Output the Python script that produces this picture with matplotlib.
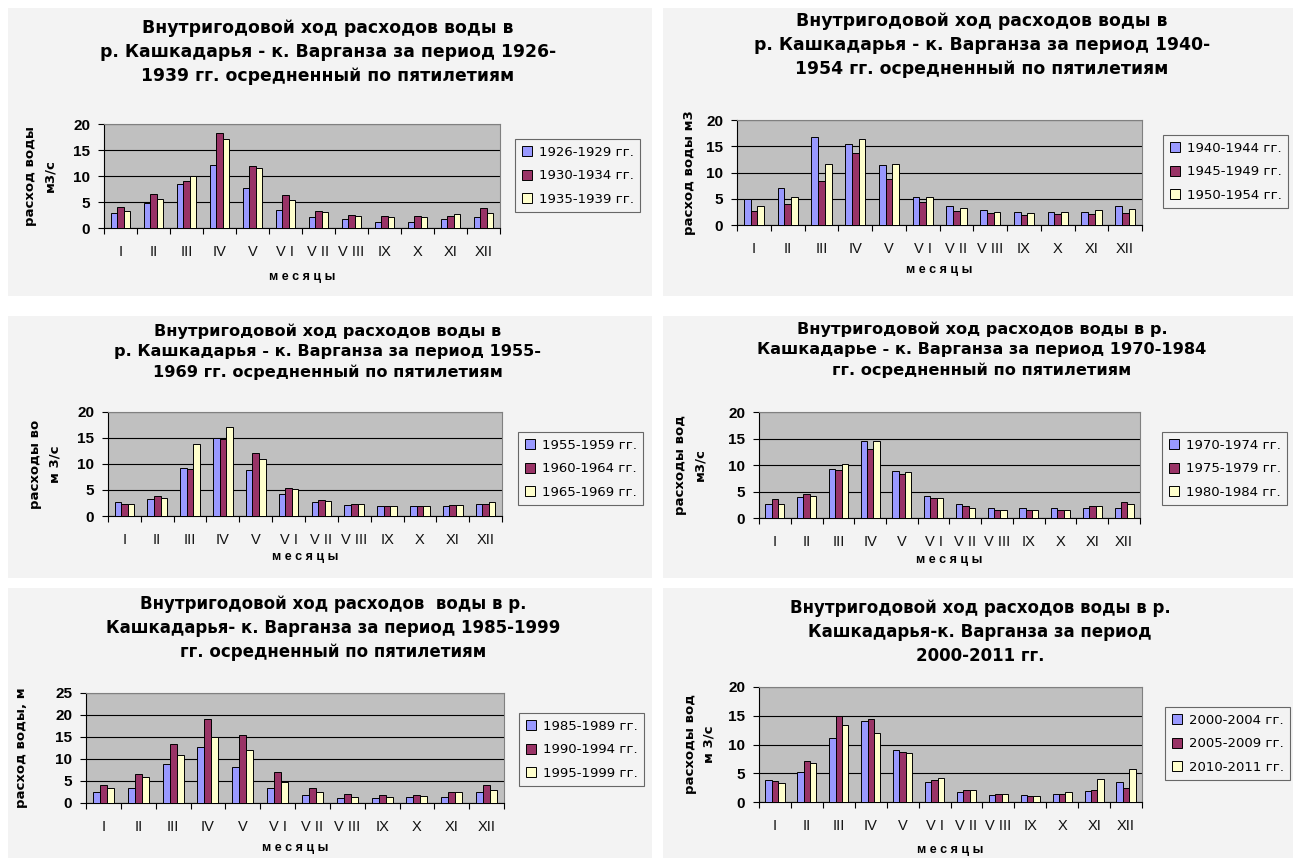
import numpy as np
import matplotlib.pyplot as plt
from matplotlib.patches import Rectangle

plt.rcParams['font.family'] = ['Liberation Sans', 'DejaVu Sans']

W, H = 1293, 861

months = ['I', 'II', 'III', 'IV', 'V', 'V I', 'V II', 'V III', 'IX', 'X', 'XI', 'XII']
colors = ['#9999ff', '#993366', '#ffffcc']

# 1926-1939
p1_labels = ['1926-1929 гг.', '1930-1934 гг.', '1935-1939 гг.']
p1_a = [2.9, 4.75, 8.4, 12.2, 7.7, 3.5, 2.1, 1.7, 1.2, 1.2, 1.7, 2.1]
p1_b = [4.05, 6.5, 9.1, 18.2, 12.0, 6.3, 3.2, 2.5, 2.4, 2.4, 2.4, 3.9]
p1_c = [3.2, 5.6, 10.0, 17.2, 11.6, 5.3, 3.0, 2.4, 2.1, 2.1, 2.6, 2.8]

# 1940-1954
p2_labels = ['1940-1944 гг.', '1945-1949 гг.', '1950-1954 гг.']
p2_a = [4.95, 7.0, 16.8, 15.5, 11.4, 5.3, 3.55, 2.85, 2.4, 2.5, 2.5, 3.55]
p2_b = [2.7, 4.0, 8.4, 13.8, 8.7, 4.4, 2.7, 2.2, 1.9, 2.1, 2.1, 2.2]
p2_c = [3.7, 5.4, 11.7, 16.4, 11.7, 5.3, 3.3, 2.5, 2.2, 2.4, 2.85, 3.05]

# 1955-1969
p3_labels = ['1955-1959 гг.', '1960-1964 гг.', '1965-1969 гг.']
p3_a = [2.7, 3.2, 9.2, 15.0, 8.85, 4.25, 2.7, 2.2, 2.0, 2.0, 2.0, 2.4]
p3_b = [2.3, 3.9, 9.0, 14.85, 12.1, 5.4, 3.15, 2.4, 2.0, 2.0, 2.2, 2.4]
p3_c = [2.3, 3.55, 13.9, 17.1, 10.9, 5.2, 2.9, 2.25, 2.0, 2.0, 2.2, 2.65]

# 1970-1984
p4_labels = ['1970-1974 гг.', '1975-1979 гг.', '1980-1984 гг.']
p4_a = [2.55, 3.9, 9.3, 14.5, 8.9, 4.2, 2.55, 1.9, 1.8, 1.8, 1.8, 1.95]
p4_b = [3.5, 4.5, 9.0, 13.0, 8.35, 3.75, 2.2, 1.45, 1.45, 1.6, 2.2, 3.1]
p4_c = [2.55, 4.1, 10.1, 14.5, 8.7, 3.75, 1.95, 1.6, 1.45, 1.6, 2.2, 2.55]

# 1985-1999
p5_labels = ['1985-1989 гг.', '1990-1994 гг.', '1995-1999 гг.']
p5_a = [2.6, 3.3, 8.8, 12.65, 8.2, 3.3, 1.8, 1.15, 1.15, 1.35, 1.35, 2.4]
p5_b = [4.0, 6.5, 13.3, 19.2, 15.4, 7.0, 3.3, 2.05, 1.75, 1.8, 2.4, 4.15]
p5_c = [3.4, 6.0, 11.0, 15.0, 12.1, 4.8, 2.4, 1.35, 1.3, 1.65, 2.6, 3.0]

# 2000-2011
p6_labels = ['2000-2004 гг.', '2005-2009 гг.', '2010-2011 гг.']
p6_a = [3.9, 5.25, 11.1, 14.1, 9.0, 3.4, 1.7, 1.3, 1.3, 1.45, 1.9, 3.4]
p6_b = [3.6, 7.05, 14.9, 14.45, 8.65, 3.75, 2.05, 1.45, 1.05, 1.35, 2.05, 2.5]
p6_c = [3.3, 6.75, 13.35, 11.95, 8.5, 4.25, 2.05, 1.35, 1.05, 1.7, 3.95, 5.7]

titles = [
    'Внутригодовой ход расходов воды в\nр. Кашкадарья - к. Варганза за период 1926-\n1939 гг. осредненный по пятилетиям',
    'Внутригодовой ход расходов воды в\nр. Кашкадарья - к. Варганза за период 1940-\n1954 гг. осредненный по пятилетиям',
    'Внутригодовой ход расходов воды в\nр. Кашкадарья - к. Варганза за период 1955-\n1969 гг. осредненный по пятилетиям',
    'Внутригодовой ход расходов воды в р.\nКашкадарье - к. Варганза за период 1970-1984\nгг. осредненный по пятилетиям',
    'Внутригодовой ход расходов  воды в р.\nКашкадарья- к. Варганза за период 1985-1999\nгг. осредненный по пятилетиям',
    'Внутригодовой ход расходов воды в р.\nКашкадарья-к. Варганза за период\n2000-2011 гг.',
]
ylabels = ['расход воды\nм3/с', 'расход воды м3', 'расходы во\nм 3/с',
           'расходы вод\nм3/с', 'расход воды, м', 'расходы вод\nм 3/с']

series = [(p1_labels, [p1_a, p1_b, p1_c]), (p2_labels, [p2_a, p2_b, p2_c]),
          (p3_labels, [p3_a, p3_b, p3_c]), (p4_labels, [p4_a, p4_b, p4_c]),
          (p5_labels, [p5_a, p5_b, p5_c]), (p6_labels, [p6_a, p6_b, p6_c])]
ymax = [20, 20, 20, 20, 25, 20]

# layout in pixels
panels = [(8, 8, 652, 296), (663, 8, 1293, 296), (8, 316, 652, 578),
          (663, 316, 1293, 578), (8, 588, 652, 858), (663, 588, 1293, 858)]
plots = [(104, 124, 500, 228), (737, 120, 1142, 225), (108, 412, 502, 516),
         (759, 412, 1140, 518), (86, 693, 504, 803), (759, 687, 1142, 802)]
legends = [(515, 139), (1163, 135), (518, 432), (1162, 432), (519, 713), (1165, 707)]
title_y = [52, 45, 352, 350, 628, 632]
title_x = [328, 982, 328, 982, 333, 980]
title_fs = [12.4, 12.4, 11.6, 11.6, 12.0, 12.0]
title_ls = [1.45, 1.45, 1.42, 1.42, 1.4, 1.42]
ylab_x = [40, 690, 45, 690, 22, 700]
xlab_y = [277, 270, 557, 560, 848, 850]

fig = plt.figure(figsize=(W / 100, H / 100), dpi=100)
fig.patch.set_facecolor('white')

def fx(x):
    return x / W

def fy(y):
    return 1 - y / H

x = np.arange(len(months))
bw = 0.2

for i in range(6):
    px0, py0, px1, py1 = panels[i]
    fig.add_artist(Rectangle((fx(px0), fy(py1)), (px1 - px0) / W, (py1 - py0) / H,
                             transform=fig.transFigure, facecolor='#f3f3f3',
                             edgecolor='none', zorder=0))
    ax0, ay0, ax1, ay1 = plots[i]
    ax = fig.add_axes([fx(ax0), fy(ay1), (ax1 - ax0) / W, (ay1 - ay0) / H])
    ax.set_facecolor('#c0c0c0')
    labels, vals = series[i]
    for k in range(3):
        ax.bar(x + (k - 1) * bw, vals[k], bw, color=colors[k], edgecolor='black',
               linewidth=0.7, label=labels[k], zorder=3)
    ax.set_xlim(-0.5, 11.5)
    ax.set_ylim(0, ymax[i])
    ax.set_yticks(np.arange(0, ymax[i] + 1, 5))
    ax.yaxis.grid(True, color='black', linewidth=0.8, zorder=1)
    ax.set_axisbelow(True)
    ax.set_xticks(np.arange(-0.5, 12, 1))
    ax.set_xticklabels([])
    ax.set_xticks(x, minor=True)
    ax.set_xticklabels(months, minor=True)
    ax.tick_params(axis='x', which='major', length=4, direction='out', color='black')
    ax.tick_params(axis='x', which='minor', length=0, pad=12, labelsize=10.5, labelcolor='#111111')
    ax.tick_params(axis='y', length=4, direction='out', labelsize=11, pad=6)
    for lab in ax.get_yticklabels():
        lab.set_fontweight('bold')
    for s in ['top', 'right']:
        ax.spines[s].set_color('#808080')
    ax.spines['left'].set_color('black')
    ax.spines['bottom'].set_color('black')

    fig.text(fx(title_x[i]), fy(title_y[i]), titles[i], ha='center', va='center',
             fontsize=title_fs[i], fontweight='bold', linespacing=title_ls[i],
             family=['DejaVu Sans'])
    fig.text(fx(ylab_x[i]), fy((ay0 + ay1) / 2), ylabels[i], ha='center', va='center',
             rotation=90, fontsize=9.5, fontweight='bold', linespacing=1.6,
             family=['DejaVu Sans'])
    fig.text(fx((ax0 + ax1) / 2), fy(xlab_y[i]), 'м е с я ц ы', ha='center', va='center',
             fontsize=9, fontweight='bold')

    lx0, ly0 = legends[i]
    leg = ax.legend(loc='upper left',
                    bbox_to_anchor=(fx(lx0), fy(ly0)), bbox_transform=fig.transFigure,
                    prop={'family': 'DejaVu Sans', 'size': 9.5},
                    frameon=True, fancybox=False, handlelength=0.8,
                    handleheight=0.8, handletextpad=0.5, labelspacing=0.8,
                    borderpad=0.5, borderaxespad=0)
    leg.get_frame().set_edgecolor('#444444')
    leg.get_frame().set_facecolor('#f3f3f3')
    leg.get_frame().set_linewidth(0.8)

fig.savefig('out.png', dpi=100)
